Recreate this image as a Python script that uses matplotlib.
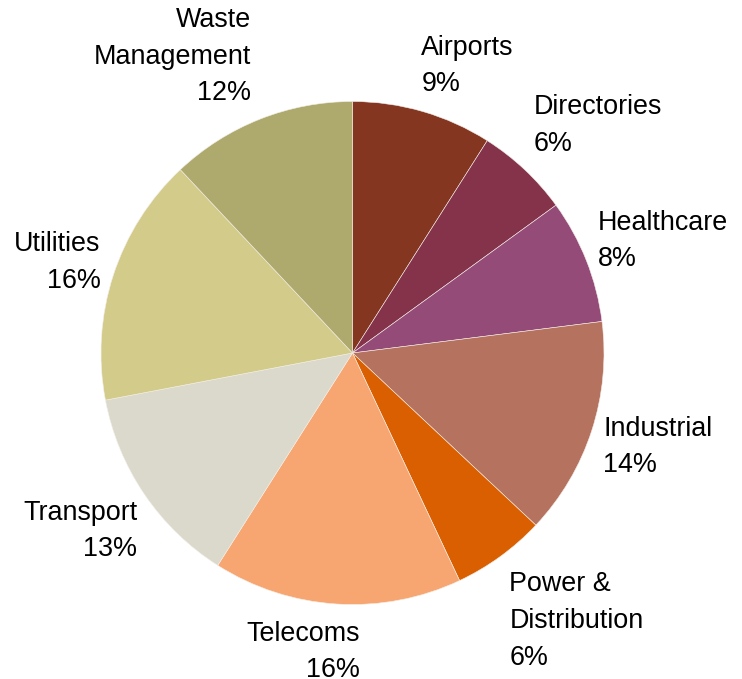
import matplotlib
matplotlib.use('Agg')
import matplotlib.pyplot as plt

# sector share of the portfolio, clockwise from 12 o'clock
sectors = ['Airports', 'Directories', 'Healthcare', 'Industrial',
           'Power &\nDistribution', 'Telecoms', 'Transport', 'Utilities',
           'Waste\nManagement']
shares = [9, 6, 8, 14, 6, 16, 13, 16, 12]
colors = ['#843621', '#84334A', '#954B77', '#B5725E', '#DA5F00',
          '#F8A671', '#DAD9CB', '#D3CB8A', '#AEAA6D']

# label anchors (baseline of the percentage line) in pie radius units
label_pos = [(0.274, 1.040, 'left'), (0.720, 0.805, 'left'),
             (0.974, 0.344, 'left'), (0.998, -0.475, 'left'),
             (0.624, -1.239, 'left'), (0.028, -1.290, 'right'),
             (-0.855, -0.809, 'right'), (-1.002, 0.260, 'right'),
             (-0.402, 1.004, 'right')]

plt.rcParams['font.family'] = ['Liberation Sans', 'DejaVu Sans']

fig = plt.figure(figsize=(7.42, 6.79), dpi=100)
ax = fig.add_axes([101 / 742, 74.5 / 679, 503 / 742, 503 / 679])

ax.pie(shares, colors=colors, startangle=90, counterclock=False,
       radius=1.0, wedgeprops={'linewidth': 0.4, 'edgecolor': '#f4eee8'})
ax.set_xlim(-1, 1)
ax.set_ylim(-1, 1)
ax.set_aspect('auto')
ax.axis('off')

for name, pct, (lx, ly, ha) in zip(sectors, shares, label_pos):
    ax.text(lx, ly, name + '\n' + str(pct) + '%', ha=ha, va='baseline',
            fontsize=19.4, linespacing=1.53, multialignment=ha,
            clip_on=False)

fig.savefig('out.png', dpi=100)
